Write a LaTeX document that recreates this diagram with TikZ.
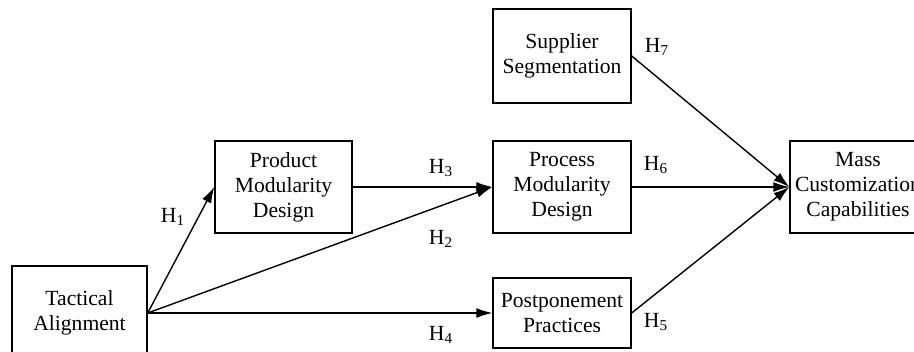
\documentclass[tikz,border=0pt]{standalone}
\usepackage{fontspec}
\setmainfont{Liberation Serif}
\usetikzlibrary{arrows.meta}

\begin{document}
\begin{tikzpicture}[x=0.5pt, y=0.5pt, >={Latex[length=8pt,width=5pt]},
	every node/.style={font=\fontsize{10.8}{12.5}\selectfont},
	box/.style={draw, line width=0.7pt, align=center, inner sep=0pt}]
	\useasboundingbox (0,0) rectangle (914,352);
	\clip (0,0) rectangle (914,352);
	% constructs
	\node[box, minimum width=67.5pt, minimum height=47pt] (tact) at (79.5,39) {Tactical\\Alignment};
	\node[box, minimum width=68.5pt, minimum height=46pt] (pmd) at (283.5,165) {Product\\Modularity\\Design};
	\node[box, minimum width=69pt, minimum height=46pt] (proc) at (562,165) {Process\\Modularity\\Design};
	\node[box, minimum width=69pt, minimum height=47pt] (supp) at (562,296) {Supplier\\Segmentation};
	\node[box, minimum width=69pt, minimum height=35pt] (post) at (562,39) {Postponement\\Practices};
	\node[box, minimum width=68pt, minimum height=46pt] (mass) at (858,165) {Mass\\Customization\\Capabilities};
	% hypotheses
	\foreach \a/\b in {tact/pmd, tact/proc, pmd/proc, tact/post, post/mass, proc/mass, supp/mass}
		\draw[->, line width=0.7pt] (\a.east) -- (\b.west);
	\foreach \i/\x/\y in {1/173/135, 2/441/113, 3/441/184, 4/441/17, 5/656/30, 6/656/187, 7/657/305}
		\node (h\i) at (\x,\y) {H\textsubscript{\i}};
\end{tikzpicture}
\end{document}
